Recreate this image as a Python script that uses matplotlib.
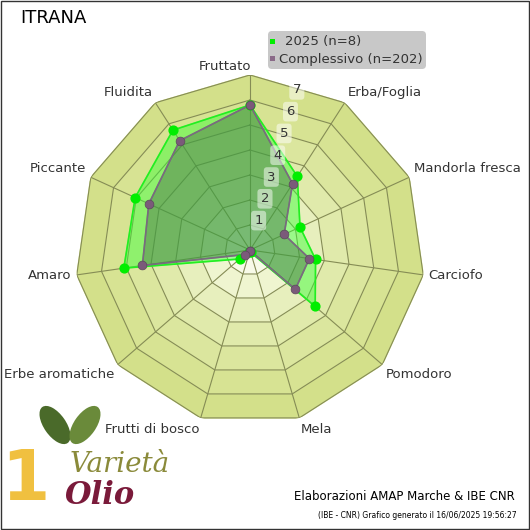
import numpy as np
import matplotlib
matplotlib.use("Agg")
import matplotlib.pyplot as plt
from matplotlib.patches import Rectangle, FancyBboxPatch, Ellipse

categories = ["Fruttato", "Erba/Foglia", "Mandorla fresca", "Carciofo", "Pomodoro", "Mela",
              "Frutti di bosco", "Erbe aromatiche", "Amaro", "Piccante", "Fluidita"]
v2025 = [5.8, 3.5, 2.2, 2.65, 3.45, 0.1, 0.1, 0.55, 5.1, 5.05, 5.7]
vall = [5.8, 3.15, 1.5, 2.4, 2.4, 0.05, 0.05, 0.28, 4.35, 4.45, 5.2]
rings = [1, 2, 3, 4, 5, 6, 7]
rmax = 7

fig = plt.figure(figsize=(5.3, 5.3), dpi=100)
fig.patch.set_facecolor("white")
ax = fig.add_axes([75 / 530, 105 / 530, 350 / 530, 350 / 530], polar=True)
ax.set_theta_zero_location("N")
ax.set_theta_direction(-1)
ax.set_ylim(0, rmax)
ax.axis("off")
n = len(categories)
ang = np.arange(n) * 2 * np.pi / n
angc = np.append(ang, ang[0])

cols = ["#f8fae8", "#eff5d0", "#e7efbd", "#e0eaab", "#dbe69e", "#d7e393", "#d3e08a"]
for i in range(len(rings) - 1, -1, -1):
    r = rings[i]
    ax.fill(angc, [r] * (n + 1), color=cols[i], zorder=1)
for r in rings:
    ax.plot(angc, [r] * (n + 1), color="#858c55", lw=0.8, zorder=2)
for a in ang:
    ax.plot([a, a], [0, rmax], color="#858c55", lw=0.8, zorder=2)

ax.fill(angc, v2025 + v2025[:1], color="#33ff33", alpha=0.45, zorder=3)
ax.plot(angc, v2025 + v2025[:1], color="#22ee22", lw=1.2, zorder=4)
ax.fill(angc, vall + vall[:1], color="#4a6a4a", alpha=0.45, zorder=5)
ax.plot(angc, vall + vall[:1], color="#7a6a80", lw=1.2, zorder=6)
ax.scatter(ang, v2025, s=40, color="#00ee00", zorder=7)
ax.scatter(ang, vall, s=40, color="#7b5a7a", edgecolor="#5a4a5a", lw=0.5, zorder=8)

for r in range(1, 8):
    ax.text(np.deg2rad(16.3), (r + 0.35) * 0.908, str(r), ha="center", va="center", fontsize=9.5,
            color="#333333", zorder=9,
            bbox=dict(boxstyle="round,pad=0.25", fc="white", ec="none", alpha=0.5))

for a, c in zip(ang, categories):
    if c == "Fruttato":
        continue
    s, co = np.sin(a), np.cos(a)
    ha = "center" if abs(s) < 0.2 else ("left" if s > 0 else "right")
    va = "bottom" if co > 0.3 else ("top" if co < -0.3 else "center")
    ax.text(a, 7.2, c, ha=ha, va=va, fontsize=9.5, color="#333333", clip_on=False)

fig.text(20 / 530, 1 - 18 / 530, "ITRANA", fontsize=13, va="center", ha="left", color="black")

lax = fig.add_axes([0, 0, 1, 1], facecolor="none")
lax.set_xlim(0, 530); lax.set_ylim(530, 0); lax.axis("off")
lax.text(225, 66, categories[0], fontsize=9.5, ha="center", va="center", color="#333333")
lax.add_patch(FancyBboxPatch((268, 31), 158, 38, boxstyle="round,pad=0,rounding_size=4",
                             fc="#c8c8c8", ec="none", zorder=1))
lax.add_patch(Rectangle((270, 39), 5, 5, fc="#00ee00", zorder=2))
lax.text(285, 42, "2025 (n=8)", fontsize=9.5, va="center", color="#333333", zorder=2)
lax.add_patch(Rectangle((270, 56), 5, 5, fc="#8a6a88", zorder=2))
lax.text(279, 59, "Complessivo (n=202)", fontsize=9.5, va="center", color="#333333", zorder=2)
lax.add_patch(Rectangle((1, 1), 528, 528, fc="none", ec="#333333", lw=1))
lax.text(515, 496, "Elaborazioni AMAP Marche & IBE CNR", fontsize=8.5, ha="right", va="center", color="black")
lax.text(517, 516, "(IBE - CNR) Grafico generato il 16/06/2025 19:56:27", fontsize=5.5, ha="right", va="center", color="black")

lax.add_patch(Ellipse((55, 425), 22, 44, angle=-35, fc="#4a6a2a", ec="none"))
lax.add_patch(Ellipse((85, 425), 22, 44, angle=35, fc="#6a8a3a", ec="none"))
lax.text(70, 465, "Varietà", fontsize=20, style="italic", color="#8a8a3a", ha="left", va="center", family="DejaVu Serif")
lax.text(65, 495, "Olio", fontsize=22, style="italic", weight="bold", color="#7a1a3a", ha="left", va="center", family="DejaVu Serif")
lax.text(25, 480, "1", fontsize=50, color="#f0c040", ha="center", va="center", weight="bold")

fig.savefig("out.png", dpi=100)
